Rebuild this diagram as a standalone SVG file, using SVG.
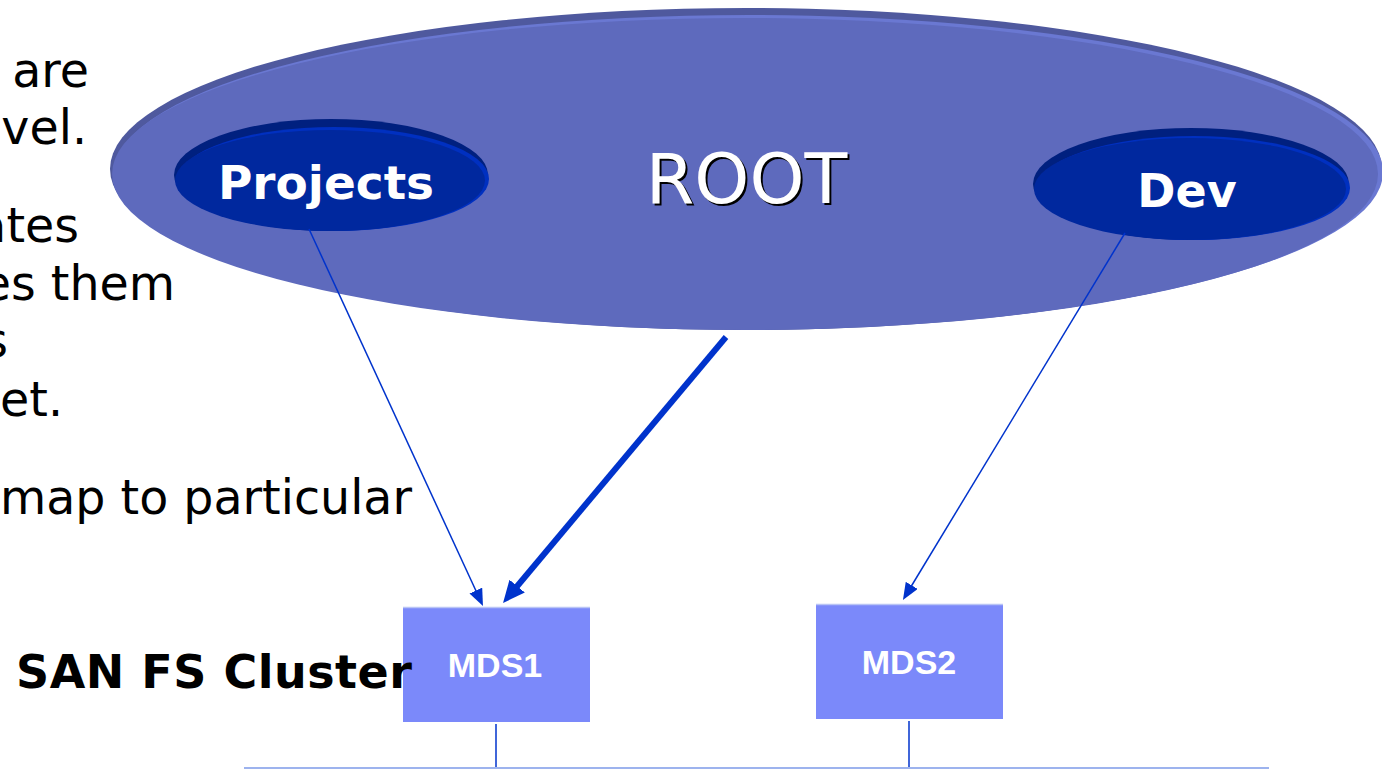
<svg xmlns="http://www.w3.org/2000/svg" width="1382" height="769" viewBox="0 0 1382 769">
  <style>
    .body { font-family: "DejaVu Sans", Verdana, sans-serif; font-size: 47.5px; fill: #000; }
    .lbl { font-family: "DejaVu Sans", Verdana, sans-serif; font-weight: bold; fill: #fff; text-anchor: middle; }
    .mds-lbl { font-family: "Liberation Sans", Arial, sans-serif; font-weight: bold; font-size: 34px; fill: #fff; text-anchor: middle; }
    .mds { fill: #7b89fa; }
    .mds-top { stroke: #b9c4f5; stroke-width: 1.5; }
    .link { fill: none; stroke: #0033cc; stroke-width: 1.5; }
    .link-thick { fill: none; stroke: #0033cc; stroke-width: 6; }
  </style>
  <defs>
    <marker id="head" markerUnits="userSpaceOnUse" markerWidth="17" markerHeight="14" refX="3" refY="7" orient="auto">
      <path d="M0,0 L17,7 L0,14 z" fill="#0033cc"/>
    </marker>
    <marker id="head-big" markerUnits="userSpaceOnUse" markerWidth="22" markerHeight="20" refX="4" refY="10" orient="auto">
      <path d="M0,0 L22,10 L0,20 z" fill="#0033cc"/>
    </marker>
  </defs>

  <rect width="1382" height="769" fill="#fff"/>

  <!-- bullet text, cut at the left edge -->
  <g id="bullets">
    <text class="body" x="89" y="87" text-anchor="end">are</text>
    <text class="body" x="87" y="144" text-anchor="end">evel.</text>
    <text class="body" x="79" y="242" text-anchor="end">ates</text>
    <text class="body" x="175" y="300" text-anchor="end">es them</text>
    <text class="body" x="8" y="357" text-anchor="end">s</text>
    <text class="body" x="63" y="416" text-anchor="end">et.</text>
    <text class="body" x="412" y="514" text-anchor="end">map to particular</text>
  </g>

  <!-- namespace root volume -->
  <g id="root">
    <ellipse cx="746" cy="169" rx="636" ry="161" fill="#4f599e"/>
    <ellipse cx="749" cy="172" rx="634" ry="157" fill="#6a78d2"/>
    <ellipse cx="745" cy="174" rx="633" ry="156" fill="#5e6abd"/>
    <text x="748.5" y="205" font-family="DejaVu Sans, Verdana, sans-serif" font-size="70" text-anchor="middle" fill="#000">ROOT</text>
    <text x="746.5" y="203" font-family="DejaVu Sans, Verdana, sans-serif" font-size="70" text-anchor="middle" fill="#fff">ROOT</text>
  </g>

  <g id="projects">
    <ellipse cx="331" cy="175" rx="157" ry="56" fill="#00207f"/>
    <ellipse cx="334" cy="179" rx="155" ry="52" fill="#0030c0"/>
    <ellipse cx="330" cy="180.5" rx="155" ry="50.5" fill="#00289e"/>
    <text class="lbl" x="326" y="199" font-size="47">Projects</text>
  </g>

  <g id="dev">
    <ellipse cx="1191" cy="184" rx="158" ry="56" fill="#00207f"/>
    <ellipse cx="1194" cy="188" rx="156" ry="52" fill="#0030c0"/>
    <ellipse cx="1190" cy="189" rx="156" ry="51" fill="#00289e"/>
    <text class="lbl" x="1187" y="207" font-size="46">Dev</text>
  </g>

  <g id="mds1">
    <rect class="mds" x="403" y="607" width="187" height="115"/>
    <line class="mds-top" x1="403" y1="607.5" x2="590" y2="607.5"/>
    <text class="mds-lbl" x="495" y="677">MDS1</text>
  </g>

  <g id="mds2">
    <rect class="mds" x="816" y="604" width="187" height="115"/>
    <line class="mds-top" x1="816" y1="604.5" x2="1003" y2="604.5"/>
    <text class="mds-lbl" x="909" y="674">MDS2</text>
  </g>

  <!-- label sits over the first server box -->
  <g id="cluster-label">
    <text x="16" y="688" font-family="DejaVu Sans, Verdana, sans-serif" font-weight="bold" font-size="46" textLength="396" lengthAdjust="spacing" fill="#000">SAN FS Cluster</text>
  </g>

  <g id="connectors">
    <line class="link" x1="309" y1="229" x2="477.1" y2="593.3" marker-end="url(#head)"/>
    <line class="link-thick" x1="726" y1="337" x2="514.6" y2="589.2" marker-end="url(#head-big)"/>
    <line class="link" x1="1125" y1="233" x2="910.2" y2="588" marker-end="url(#head)"/>
    <line class="link" x1="496" y1="724" x2="496" y2="769"/>
    <line class="link" x1="909" y1="721" x2="909" y2="769"/>
    <line x1="244" y1="768" x2="1269" y2="768" stroke="#9db3ee" stroke-width="2"/>
  </g>
</svg>
